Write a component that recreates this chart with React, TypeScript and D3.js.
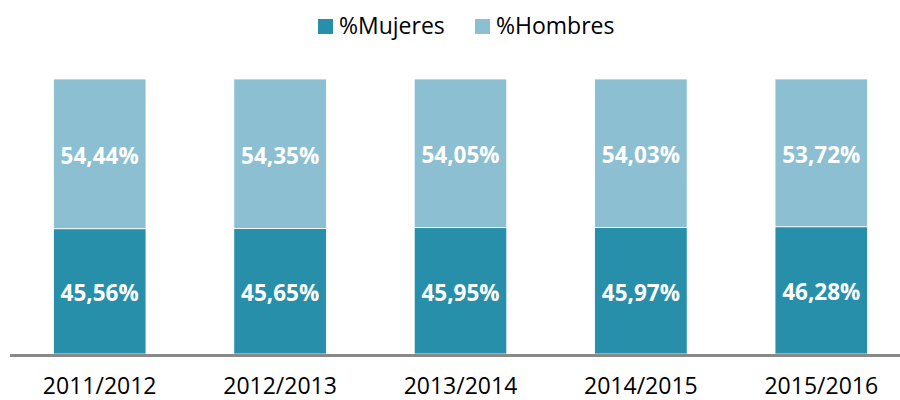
import React, { useRef, useEffect } from "react";
import * as d3 from "d3";

const categories = ["2011/2012", "2012/2013", "2013/2014", "2014/2015", "2015/2016"];
const mujeres = [45.56, 45.65, 45.95, 45.97, 46.28];
const hombres = [54.44, 54.35, 54.05, 54.03, 53.72];
const seriesNames = ["%Mujeres", "%Hombres"];
const colors = ["#278faa", "#8bbfd1"];

const fmt = (v: number) => v.toFixed(2).replace(".", ",") + "%";

const App = () => {
  const svgRef = useRef<SVGSVGElement>(null);

  useEffect(() => {
    if (!svgRef.current) return;
    const svg = d3.select(svgRef.current);
    svg.selectAll("*").remove();

    const font = "'Open Sans', sans-serif";

    const x = d3
      .scaleBand<string>()
      .domain(categories)
      .range([9.5, 911.5])
      .paddingInner(0.487)
      .paddingOuter(0.2435);

    const y = d3.scaleLinear().domain([0, 100]).range([354, 79]);

    const rows = categories.map((c, i) => ({ cat: c, m: mujeres[i], h: hombres[i] }));
    const stack = d3.stack<any>().keys(["m", "h"])(rows);

    stack.forEach((layer, si) => {
      const g = svg.append("g");
      g.selectAll("rect")
        .data(layer)
        .join("rect")
        .attr("x", (d: any) => x(d.data.cat)!)
        .attr("y", (d) => y(d[1]))
        .attr("width", x.bandwidth())
        .attr("height", (d) => y(d[0]) - y(d[1]))
        .attr("fill", colors[si])
        .attr("stroke", "#ffffff")
        .attr("stroke-width", 0.8);

      g.selectAll("text")
        .data(layer)
        .join("text")
        .attr("x", (d: any) => x(d.data.cat)! + x.bandwidth() / 2)
        .attr("y", (d) => (y(d[0]) + y(d[1])) / 2 + 1.5)
        .attr("text-anchor", "middle")
        .attr("dominant-baseline", "central")
        .attr("fill", "#ffffff")
        .attr("font-family", font)
        .attr("font-weight", "bold")
        .attr("font-size", 22.5)
        .text((d) => fmt(d[1] - d[0]));
    });

    // baseline
    svg
      .append("line")
      .attr("x1", 10)
      .attr("x2", 900)
      .attr("y1", 355.5)
      .attr("y2", 355.5)
      .attr("stroke", "#898989")
      .attr("stroke-width", 3);

    // category labels
    svg
      .append("g")
      .selectAll("text")
      .data(categories)
      .join("text")
      .attr("x", (d) => x(d)! + x.bandwidth() / 2)
      .attr("y", 394)
      .attr("text-anchor", "middle")
      .attr("fill", "#000000")
      .attr("font-family", font)
      .attr("font-size", 23)
      .text((d) => d);

    // legend
    const legendX = [318, 475];
    const lg = svg.append("g");
    seriesNames.forEach((name, i) => {
      lg.append("rect")
        .attr("x", legendX[i])
        .attr("y", 19)
        .attr("width", 15)
        .attr("height", 15)
        .attr("fill", colors[i]);
      lg.append("text")
        .attr("x", legendX[i] + 21)
        .attr("y", 34)
        .attr("fill", "#000000")
        .attr("font-family", font)
        .attr("font-size", 23)
        .text(name);
    });
  }, []);

  return (
    <svg
      ref={svgRef}
      width={900}
      height={400}
      style={{ position: "absolute", left: 0, top: 0, background: "#fff" }}
    ></svg>
  );
};

export default App;
